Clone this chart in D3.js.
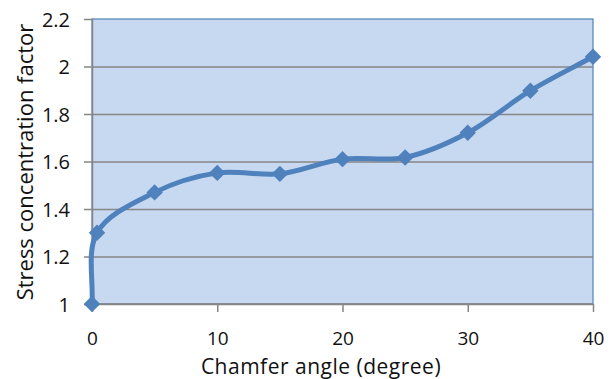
<!DOCTYPE html>
<html>
<head>
<meta charset="utf-8">
<script src="https://cdn.jsdelivr.net/npm/d3@7"></script>
<style>
  html, body { margin: 0; padding: 0; background: #fff; }
  svg { display: block; }
  text { font-family: "Open Sans", "Liberation Sans", sans-serif; fill: #111; }
</style>
</head>
<body>
<svg id="chart" width="613" height="379"></svg>
<script>
// Chamfer angle (degree) and stress concentration factor
const angles  = [0, 0.4, 5, 10, 15, 20, 25, 30, 35, 40];
const factors = [1.0, 1.30, 1.47, 1.552, 1.548, 1.61, 1.617, 1.721, 1.898, 2.041];
const xTicks  = [0, 10, 20, 30, 40];
const yTicks  = [1, 1.2, 1.4, 1.6, 1.8, 2, 2.2];

const svg = d3.select("#chart");
const plotL = 92, plotR = 593, plotT = 19, plotB = 304;

const x = d3.scaleLinear().domain([0, 40]).range([plotL, plotR]);
const y = d3.scaleLinear().domain([1, 2.2]).range([plotB, plotT]);

// Smooth curve: Bezier segments whose handles follow the neighbour chord,
// split in proportion to the lengths of the adjacent segments.
function SmoothChord(context) { this._context = context; }
SmoothChord.prototype = {
  areaStart() { this._line = 0; },
  areaEnd() { this._line = NaN; },
  lineStart() { this._pts = []; },
  point(px, py) { this._pts.push([+px, +py]); },
  lineEnd() {
    const p = this._pts, n = p.length, c = this._context;
    if (!n) return;
    c.moveTo(p[0][0], p[0][1]);
    if (n === 1) return;
    const dist = (a, b) => Math.hypot(b[0] - a[0], b[1] - a[1]);
    const hin = [], hout = [];
    for (let i = 0; i < n; i++) {
      if (i === 0) {
        hout[i] = [p[0][0] + (p[1][0] - p[0][0]) / 3, p[0][1] + (p[1][1] - p[0][1]) / 3];
      } else if (i === n - 1) {
        hin[i] = [p[i][0] - (p[i][0] - p[i - 1][0]) / 3, p[i][1] - (p[i][1] - p[i - 1][1]) / 3];
      } else {
        const dIn = dist(p[i - 1], p[i]), dOut = dist(p[i], p[i + 1]), s = dIn + dOut;
        const tx = p[i + 1][0] - p[i - 1][0], ty = p[i + 1][1] - p[i - 1][1];
        hin[i]  = [p[i][0] - tx * dIn / s / 3,  p[i][1] - ty * dIn / s / 3];
        hout[i] = [p[i][0] + tx * dOut / s / 3, p[i][1] + ty * dOut / s / 3];
      }
    }
    for (let i = 1; i < n; i++) {
      c.bezierCurveTo(hout[i - 1][0], hout[i - 1][1], hin[i][0], hin[i][1], p[i][0], p[i][1]);
    }
  }
};
const curveSmoothChord = context => new SmoothChord(context);

// plot area
svg.append("rect")
  .attr("x", plotL).attr("y", plotT)
  .attr("width", plotR - plotL).attr("height", plotB - plotT)
  .attr("fill", "#c6d9f1")
  .attr("stroke", "#4f81bd").attr("stroke-width", 1.2);

// horizontal grid lines with outward tick marks
const yAxis = d3.axisLeft(y).tickValues(yTicks).tickSize(8)
  .tickFormat(d => String(+d.toFixed(1)));
const gy = svg.append("g").attr("transform", `translate(${plotL},0)`).call(yAxis);
gy.select(".domain").attr("stroke", "#868686").attr("stroke-width", 1.5);
gy.selectAll(".tick line").attr("stroke", "#868686").attr("stroke-width", 1.5)
  .attr("x2", d => d === 2.2 ? -8 : plotR - plotL).attr("x1", -8);
gy.selectAll(".tick text").attr("x", -22).attr("dy", "0.36em")
  .style("font-size", "20px").style("font-family", "'Open Sans', sans-serif").attr("fill", "#111");

const xAxis = d3.axisBottom(x).tickValues(xTicks).tickSize(8);
const gx = svg.append("g").attr("transform", `translate(0,${plotB})`).call(xAxis);
gx.select(".domain").attr("stroke", "#868686").attr("stroke-width", 1.5)
  .attr("d", `M${plotL},0H${plotR}`);
gx.selectAll(".tick line").attr("stroke", "#868686").attr("stroke-width", 1.5);
gx.selectAll(".tick text").attr("y", 41).attr("dy", 0)
  .style("font-size", "19px").style("font-family", "'Open Sans', sans-serif").attr("fill", "#111");

// smoothed series line
const line = d3.line()
  .x((d, i) => x(angles[i]))
  .y(d => y(d))
  .curve(curveSmoothChord);
svg.append("path")
  .datum(factors)
  .attr("d", line)
  .attr("fill", "none")
  .attr("stroke", "#4f81bd")
  .attr("stroke-width", 5)
  .attr("stroke-linejoin", "round");

// diamond markers
const diamond = d3.symbol().type(d3.symbolSquare).size(135);
svg.append("g").selectAll("path")
  .data(factors)
  .join("path")
  .attr("d", diamond)
  .attr("transform", (d, i) => `translate(${x(angles[i])},${y(d)}) rotate(45)`)
  .attr("fill", "#4f81bd");

// axis titles
svg.append("text")
  .attr("x", 321).attr("y", 374)
  .attr("text-anchor", "middle")
  .style("font-size", "21px")
  .style("letter-spacing", "0.5px")
  .text("Chamfer angle (degree)");

svg.append("text")
  .attr("transform", `translate(33,162) rotate(-90)`)
  .attr("text-anchor", "middle")
  .style("font-size", "22px")
  .text("Stress concentration factor");
</script>
</body>
</html>
